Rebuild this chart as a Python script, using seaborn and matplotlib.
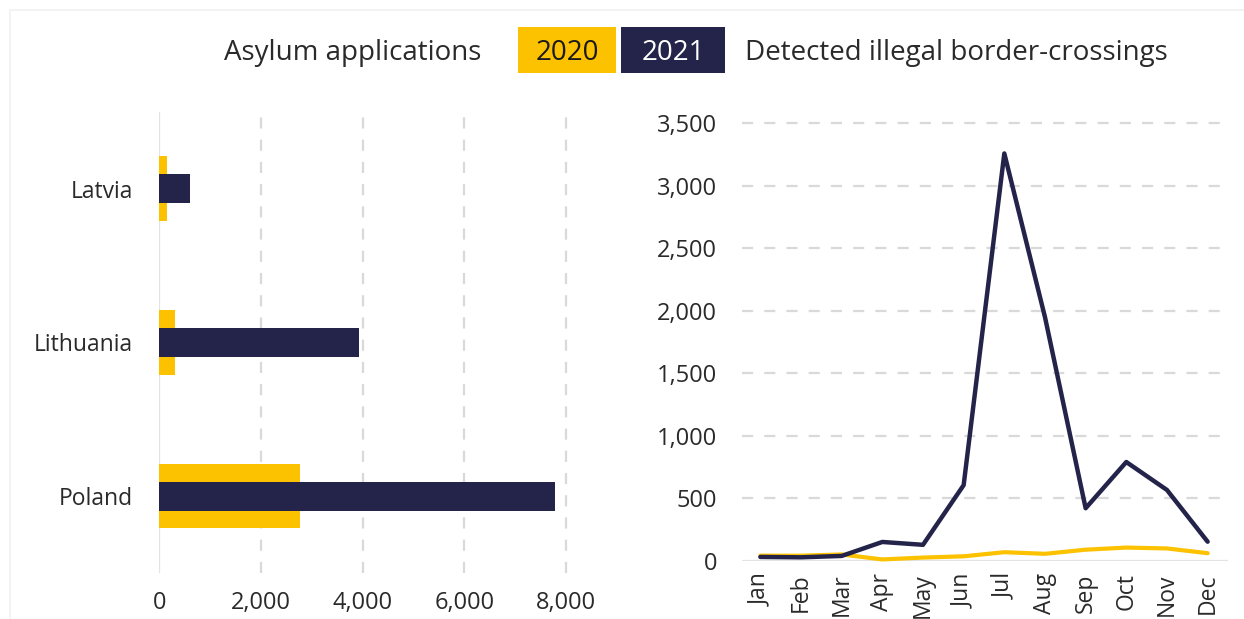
import matplotlib
matplotlib.use("Agg")
import matplotlib.pyplot as plt
import matplotlib.ticker as mticker
from matplotlib.patches import Rectangle
import seaborn as sns
import pandas as pd

# Asylum applications by country
countries = ["Latvia", "Lithuania", "Poland"]
asylum_2020 = [157, 315, 2770]
asylum_2021 = [606, 3925, 7790]

# Detected illegal border-crossings by month
months = ["Jan", "Feb", "Mar", "Apr", "May", "Jun",
          "Jul", "Aug", "Sep", "Oct", "Nov", "Dec"]
crossings_2020 = [40, 40, 50, 10, 25, 35, 68, 55, 88, 105, 98, 60]
crossings_2021 = [30, 27, 38, 150, 127, 605, 3260, 1950, 420, 790, 566, 152]

YELLOW = "#FCC200"
NAVY = "#24244A"
TEXT = "#2a2a2a"
GRID = "#d9d9d9"

sns.set_theme(style="white")
plt.rcParams["font.family"] = ["Open Sans", "DejaVu Sans"]
plt.rcParams["text.color"] = TEXT
plt.rcParams["xtick.color"] = TEXT
plt.rcParams["ytick.color"] = TEXT

fig = plt.figure(figsize=(12.44, 6.19), dpi=100)

# faint panel frame
fig.patches.append(Rectangle((10 / 1244, -0.1), 1.2, 1 - 10 / 619 + 0.1,
                             transform=fig.transFigure, fill=False,
                             edgecolor="#f1f1f1", linewidth=1.2))

# ---- left: asylum applications (horizontal bars) ----
ax1 = fig.add_axes([0.128, 0.0743, 0.329, 0.745])
df_a = pd.DataFrame({"country": countries, "y2020": asylum_2020, "y2021": asylum_2021})
sns.barplot(data=df_a, x="y2020", y="country", orient="h", color=YELLOW,
            width=0.42, saturation=1, linewidth=0, ax=ax1, zorder=2)
sns.barplot(data=df_a, x="y2021", y="country", orient="h", color=NAVY,
            width=0.19, saturation=1, linewidth=0, ax=ax1, zorder=3)
ax1.set_xlim(0, 8050)
ax1.set_ylim(2.5, -0.5)
ax1.set_xticks([0, 2000, 4000, 6000, 8000])
ax1.xaxis.set_major_formatter(mticker.FuncFormatter(lambda v, p: f"{int(v):,}"))
for v in [2000, 4000, 6000, 8000]:
    ax1.axvline(v, color=GRID, linestyle=(0, (5, 5)), linewidth=1.6, zorder=0)
ax1.axvline(0, color="#e3e3e3", linewidth=1.6, zorder=1)
ax1.set_xlabel("")
ax1.set_ylabel("")
ax1.tick_params(axis="x", length=0, pad=13, labelsize=17)
ax1.tick_params(axis="y", length=0, pad=19, labelsize=16.5)
for s in ax1.spines.values():
    s.set_visible(False)

# ---- right: detected illegal border-crossings (lines) ----
ax2 = fig.add_axes([0.5965, 0.0942, 0.3906, 0.7265])
df_c = pd.DataFrame({"month": list(range(12)) * 2,
                     "value": crossings_2020 + crossings_2021,
                     "year": ["2020"] * 12 + ["2021"] * 12})
sns.lineplot(data=df_c[df_c.year == "2020"], x="month", y="value", color=YELLOW,
             linewidth=3.0, ax=ax2, zorder=3, clip_on=False)
sns.lineplot(data=df_c[df_c.year == "2021"], x="month", y="value", color=NAVY,
             linewidth=3.2, ax=ax2, zorder=4, clip_on=False)
ax2.set_xlim(-0.45, 11.5)
ax2.set_ylim(0, 3600)
ax2.set_yticks(range(0, 3501, 500))
ax2.yaxis.set_major_formatter(mticker.FuncFormatter(lambda v, p: f"{int(v):,}"))
for v in range(500, 3501, 500):
    ax2.axhline(v, color=GRID, linestyle=(0, (5, 5)), linewidth=1.6, zorder=0)
ax2.axhline(0, color="#e3e3e3", linewidth=1.6, zorder=1)
ax2.set_xticks(range(12))
ax2.set_xticklabels(months, rotation=90)
ax2.set_xlabel("")
ax2.set_ylabel("")
ax2.tick_params(axis="x", length=0, pad=9, labelsize=16.5)
ax2.tick_params(axis="y", length=0, pad=18, labelsize=17)
for s in ax2.spines.values():
    s.set_visible(False)

# ---- header legend ----
def fx(px):
    return px / 1244

def fy(py):
    return 1 - py / 619

HDR = 20
BASE = 60
fig.text(fx(481), fy(BASE), "Asylum applications", ha="right", va="baseline", fontsize=HDR)
fig.patches.append(Rectangle((fx(518), fy(73)), fx(98), 46 / 619,
                             transform=fig.transFigure, facecolor=YELLOW, edgecolor="none"))
fig.patches.append(Rectangle((fx(621), fy(73)), fx(104), 46 / 619,
                             transform=fig.transFigure, facecolor=NAVY, edgecolor="none"))
fig.text(fx(567), fy(BASE), "2020", ha="center", va="baseline", fontsize=HDR, color="#1a1a1a")
fig.text(fx(673), fy(BASE), "2021", ha="center", va="baseline", fontsize=HDR, color="white")
fig.text(fx(745), fy(BASE), "Detected illegal border-crossings", ha="left", va="baseline", fontsize=HDR)

fig.savefig("out.png", dpi=100)
